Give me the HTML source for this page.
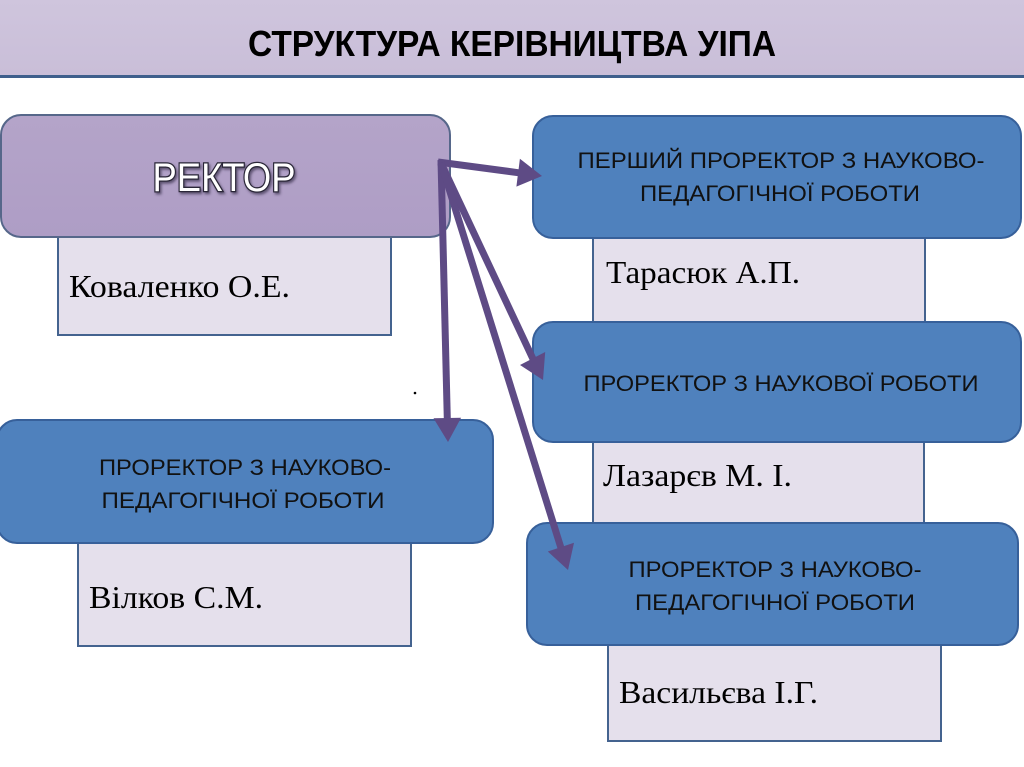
<!DOCTYPE html>
<html>
<head>
<meta charset="utf-8">
<style>
  html,body{margin:0;padding:0;background:#fff;}
  body{width:1024px;height:767px;overflow:hidden;}
  svg{display:block;}
  .hdr{font-family:"Liberation Sans","Noto Sans CJK SC",sans-serif;font-weight:bold;}
  .bt{font-family:"Liberation Sans","Noto Sans CJK SC",sans-serif;font-size:22.5px;fill:#111;}
  .nm{font-family:"Liberation Serif","Noto Serif CJK SC",serif;font-size:32px;fill:#000;}
</style>
</head>
<body>
<svg width="1024" height="767" viewBox="0 0 1024 767" xmlns="http://www.w3.org/2000/svg">
  <defs>
    <linearGradient id="hg" x1="0" y1="0" x2="0" y2="1">
      <stop offset="0" stop-color="#cfc5dd"/>
      <stop offset="1" stop-color="#c9bed8"/>
    </linearGradient>
    <linearGradient id="rg" x1="0" y1="0" x2="0" y2="1">
      <stop offset="0" stop-color="#b4a4c9"/>
      <stop offset="1" stop-color="#ae9dc5"/>
    </linearGradient>
    <filter id="ts" x="-10%" y="-20%" width="130%" height="150%">
      <feDropShadow dx="1.5" dy="2" stdDeviation="1.2" flood-color="#3a3350" flood-opacity="0.7"/>
    </filter>
  </defs>

  <!-- header -->
  <rect x="0" y="0" width="1024" height="75" fill="url(#hg)"/>
  <rect x="0" y="75" width="1024" height="3" fill="#3e5f8c"/>
  <text class="hdr" x="512" y="56" font-size="36" text-anchor="middle" textLength="528" lengthAdjust="spacingAndGlyphs" fill="#000">СТРУКТУРА КЕРІВНИЦТВА УІПА</text>

  <!-- name boxes (behind heading boxes) -->
  <rect x="58" y="236" width="333" height="99" fill="#e5e0ec" stroke="#44638f" stroke-width="2"/>
  <rect x="593" y="236" width="332" height="88" fill="#e5e0ec" stroke="#44638f" stroke-width="2"/>
  <rect x="593" y="440" width="331" height="85" fill="#e5e0ec" stroke="#44638f" stroke-width="2"/>
  <rect x="608" y="643" width="333" height="98" fill="#e5e0ec" stroke="#44638f" stroke-width="2"/>
  <rect x="78" y="541" width="333" height="105" fill="#e5e0ec" stroke="#44638f" stroke-width="2"/>

  <!-- rector box -->
  <rect x="1" y="115" width="449" height="122" rx="20" ry="20" fill="url(#rg)" stroke="#56678a" stroke-width="2"/>
  <text x="224" y="191" font-family="Liberation Sans, sans-serif" font-size="40" text-anchor="middle" textLength="143" lengthAdjust="spacingAndGlyphs" fill="#ffffff" stroke="#2b2838" stroke-width="2.6" paint-order="stroke" filter="url(#ts)">РЕКТОР</text>

  <!-- blue boxes -->
  <rect x="533" y="116" width="488" height="122" rx="20" ry="20" fill="#4f81bd" stroke="#37609a" stroke-width="2"/>
  <rect x="533" y="322" width="488" height="120" rx="20" ry="20" fill="#4f81bd" stroke="#37609a" stroke-width="2"/>
  <rect x="527" y="523" width="491" height="122" rx="20" ry="20" fill="#4f81bd" stroke="#37609a" stroke-width="2"/>
  <rect x="-3" y="420" width="496" height="123" rx="20" ry="20" fill="#4f81bd" stroke="#37609a" stroke-width="2"/>

  <!-- blue box text -->
  <text class="bt" x="781" y="168" text-anchor="middle" textLength="407" lengthAdjust="spacingAndGlyphs">ПЕРШИЙ ПРОРЕКТОР З НАУКОВО-</text>
  <text class="bt" x="780" y="201" text-anchor="middle" textLength="280" lengthAdjust="spacingAndGlyphs">ПЕДАГОГІЧНОЇ РОБОТИ</text>

  <text class="bt" x="781" y="391" text-anchor="middle" textLength="395" lengthAdjust="spacingAndGlyphs">ПРОРЕКТОР З НАУКОВОЇ РОБОТИ</text>

  <text class="bt" x="775" y="577" text-anchor="middle" textLength="293" lengthAdjust="spacingAndGlyphs">ПРОРЕКТОР З НАУКОВО-</text>
  <text class="bt" x="775" y="610" text-anchor="middle" textLength="280" lengthAdjust="spacingAndGlyphs">ПЕДАГОГІЧНОЇ РОБОТИ</text>

  <text class="bt" x="245" y="475" text-anchor="middle" textLength="292" lengthAdjust="spacingAndGlyphs">ПРОРЕКТОР З НАУКОВО-</text>
  <text class="bt" x="243" y="508" text-anchor="middle" textLength="283" lengthAdjust="spacingAndGlyphs">ПЕДАГОГІЧНОЇ РОБОТИ</text>

  <!-- names -->
  <text class="nm" x="69" y="297" textLength="221" lengthAdjust="spacingAndGlyphs">Коваленко О.Е.</text>
  <text class="nm" x="606" y="283" textLength="194" lengthAdjust="spacingAndGlyphs">Тарасюк А.П.</text>
  <text class="nm" x="603" y="486" textLength="189" lengthAdjust="spacingAndGlyphs">Лазарєв М. І.</text>
  <text class="nm" x="89" y="608" textLength="174" lengthAdjust="spacingAndGlyphs">Вілков С.М.</text>
  <text class="nm" x="619" y="703" textLength="199" lengthAdjust="spacingAndGlyphs">Васильєва І.Г.</text>

  <!-- small dot -->
  <circle cx="415" cy="393" r="1.3" fill="#000"/>

  <!-- arrows -->
  <g stroke="#5e4b85" stroke-width="7" stroke-linecap="butt" fill="none">
    <line x1="438" y1="162" x2="519" y2="172.8"/>
    <line x1="441" y1="160" x2="447.3" y2="419"/>
    <line x1="441" y1="163" x2="533" y2="359"/>
    <line x1="441" y1="163" x2="561" y2="548"/>
  </g>
  <g fill="#5e4b85">
    <polygon points="542,176 516.4,186.6 519.9,158.8"/>
    <polygon points="448,442 433.5,418.3 461.1,417.7"/>
    <polygon points="543,380 520,365 545.2,352"/>
    <polygon points="568,570 547.8,551.5 574,542.7"/>
  </g>
</svg>
</body>
</html>
